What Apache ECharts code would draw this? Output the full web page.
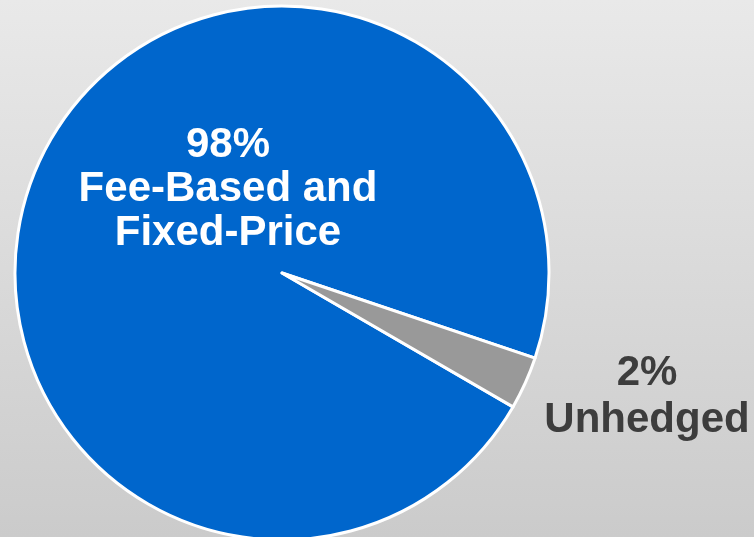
<!DOCTYPE html>
<html>
<head>
<meta charset="utf-8">
<script src="https://cdn.jsdelivr.net/npm/echarts@6/dist/echarts.min.js"></script>
<style>
html,body{margin:0;padding:0;overflow:hidden;}
#chart{width:754px;height:537px;}
</style>
</head>
<body>
<div id="chart"></div>
<script>
// Data
const categories = ['Fee-Based and\nFixed-Price', 'Unhedged'];
const percentLabels = ['98%', '2%'];
const sliceValues = [96.8, 3.2]; // slice sizes as drawn in the reference

const chart = echarts.init(document.getElementById('chart'));

const labelPos = [
  { x: 228, y: 189, color: '#ffffff', lh: 44 },
  { x: 647, y: 397, color: '#3d3d3d', lh: 47 }
];

const option = {
  backgroundColor: {
    type: 'linear', x: 0, y: 0, x2: 0, y2: 1,
    colorStops: [
      { offset: 0, color: '#e9e9e9' },
      { offset: 1, color: '#cbcbcb' }
    ]
  },
  animation: false,
  series: [{
    type: 'pie',
    center: [282, 273],
    radius: 267,
    startAngle: -30.1,
    clockwise: true,
    silent: true,
    itemStyle: { borderColor: '#ffffff', borderWidth: 3 },
    label: {
      show: true,
      position: 'inside',
      fontFamily: 'Liberation Sans, Arial, sans-serif',
      fontWeight: 'bold',
      fontSize: 42,
      align: 'center',
      formatter: p => percentLabels[p.dataIndex] + '\n' + p.name
    },
    labelLine: { show: false },
    labelLayout: p => ({
      x: labelPos[p.dataIndex].x,
      y: labelPos[p.dataIndex].y,
      align: 'center',
      verticalAlign: 'middle'
    }),
    data: categories.map((c, i) => ({
      name: c,
      value: sliceValues[i],
      itemStyle: { color: i === 0 ? '#0066cc' : '#999999' },
      label: { color: labelPos[i].color, lineHeight: labelPos[i].lh }
    }))
  }]
};
chart.setOption(option);
</script>
</body>
</html>
